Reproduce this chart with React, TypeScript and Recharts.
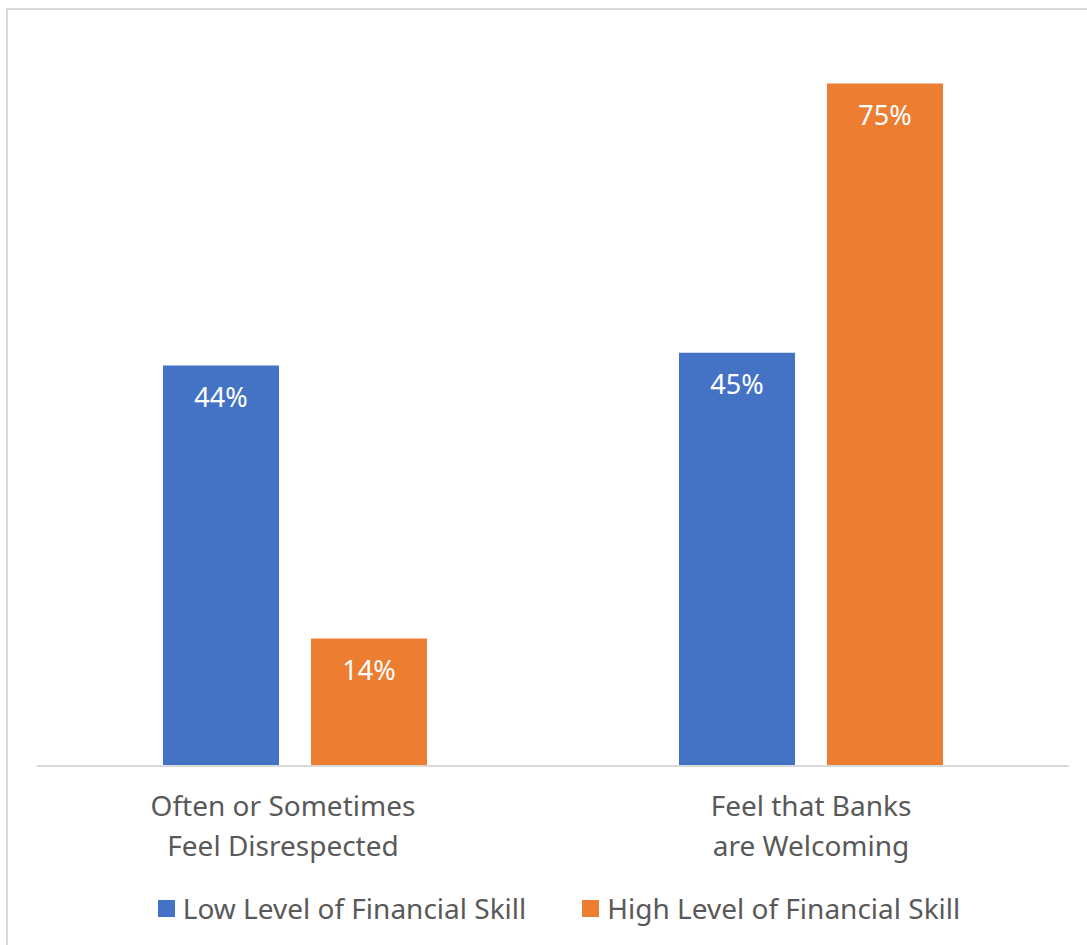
import { Bar, BarChart, LabelList, Legend, XAxis, YAxis } from "recharts";

const categories = ["Often or Sometimes\nFeel Disrespected", "Feel that Banks\nare Welcoming"];
const lowSkill = [44, 45.4];
const highSkill = [14, 75];
const seriesNames = ["Low Level of Financial Skill", "High Level of Financial Skill"];
const colors = ["#4472C4", "#ED7D31"];

const data = categories.map((name, i) => ({
  name,
  low: lowSkill[i],
  high: highSkill[i],
}));

const FONT = "'Noto Sans', sans-serif";

function CategoryTick(props: any) {
  const { x, y, payload } = props;
  const lines = String(payload.value).split("\n");
  // the first label sits a little left of its group in the original
  const shift = payload.index === 0 ? -12 : 0;
  return (
    <g transform={`translate(${x + shift},${y})`}>
      {lines.map((line, i) => (
        <text
          key={i}
          x={0}
          y={31 + i * 40}
          textAnchor="middle"
          dominantBaseline="central"
          fill="#595959"
          fontSize={28}
          fontFamily={FONT}
        >
          {line}
        </text>
      ))}
    </g>
  );
}

function LegendContent() {
  return (
    <div
      style={{
        display: "flex",
        justifyContent: "center",
        alignItems: "center",
        gap: 56,
        fontFamily: FONT,
        fontSize: 28,
        color: "#595959",
        height: 44,
        paddingLeft: 12,
      }}
    >
      {seriesNames.map((n, i) => (
        <div key={n} style={{ display: "flex", alignItems: "center", gap: 8 }}>
          <span style={{ width: 17, height: 17, background: colors[i], display: "inline-block" }} />
          <span>{n}</span>
        </div>
      ))}
    </div>
  );
}

const pct = (v: any) => `${Math.round(Number(v))}%`;

export default function App() {
  return (
    <div style={{ position: "absolute", left: 0, top: 0, width: 1087, height: 945, overflow: "hidden", background: "#fff" }}>
      <div
        style={{
          position: "absolute",
          left: 6,
          top: 8,
          width: 1200,
          height: 1100,
          border: "2px solid #D9D9D9",
        }}
      />
      <div style={{ position: "absolute", left: 0, top: 0 }}>
        <BarChart
          width={1087}
          height={945}
          data={data}
          margin={{ top: 38, right: 18, left: 37, bottom: 0 }}
          barCategoryGap={126}
          barGap={32}
        >
          <XAxis
            dataKey="name"
            axisLine={{ stroke: "#D9D9D9", strokeWidth: 2 }}
            tickLine={false}
            tick={<CategoryTick />}
            height={120}
            interval={0}
          />
          <YAxis hide domain={[0, 80]} />
          <Legend verticalAlign="bottom" height={59} content={<LegendContent />} />
          <Bar dataKey="low" name={seriesNames[0]} fill={colors[0]} isAnimationActive={false}>
            <LabelList
              dataKey="low"
              position="insideTop"
              offset={22}
              formatter={pct}
              fill="#fff"
              fontSize={27}
              fontFamily={FONT}
            />
          </Bar>
          <Bar dataKey="high" name={seriesNames[1]} fill={colors[1]} isAnimationActive={false}>
            <LabelList
              dataKey="high"
              position="insideTop"
              offset={22}
              formatter={pct}
              fill="#fff"
              fontSize={27}
              fontFamily={FONT}
            />
          </Bar>
        </BarChart>
      </div>
    </div>
  );
}
